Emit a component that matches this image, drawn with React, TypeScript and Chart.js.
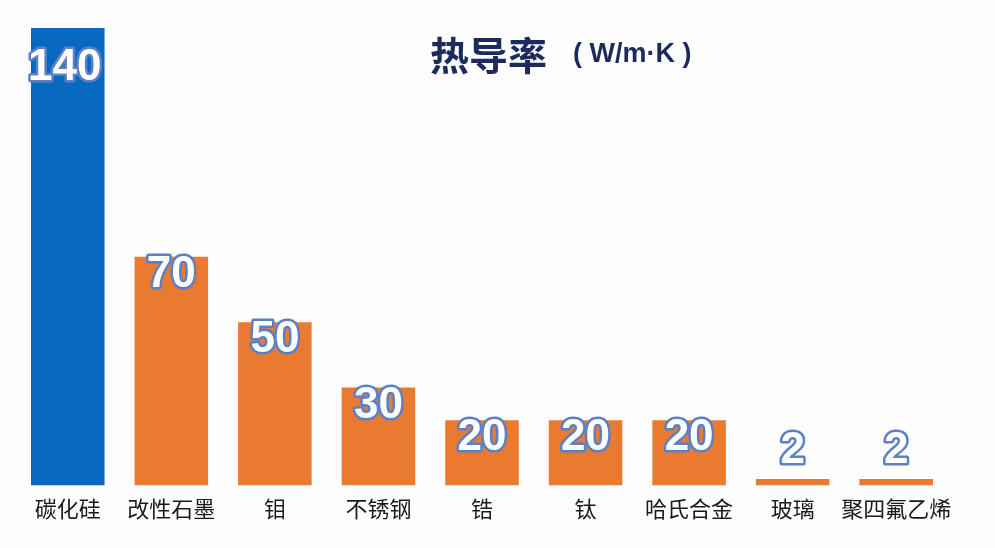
import React, { useEffect, useRef } from "react";
import { Chart, registerables } from "chart.js";

Chart.register(...registerables);

const categories = ["碳化硅", "改性石墨", "钼", "不锈钢", "锆", "钛", "哈氏合金", "玻璃", "聚四氟乙烯"];
const values = [140, 70, 50, 30, 20, 20, 20, 2, 2];
const barColors = ["#0869c1", "#e97a2f", "#e97a2f", "#e97a2f", "#e97a2f", "#e97a2f", "#e97a2f", "#e97a2f", "#e97a2f"];
const titleMain = "热导率";
const titleUnit = "( W/m·K )";

const labelPlugin = {
  id: "barLabels",
  afterDatasetsDraw(chart: any) {
    const ctx = chart.ctx;
    const meta = chart.getDatasetMeta(0);
    const area = chart.chartArea;
    ctx.save();
    ctx.font = "bold 44px 'Liberation Sans', Arial, sans-serif";
    ctx.textAlign = "center";
    ctx.textBaseline = "middle";
    ctx.lineJoin = "round";
    meta.data.forEach((bar: any, i: number) => {
      const h = bar.base - bar.y;
      let y = bar.y + 18;
      if (h < 40) y = bar.y - 28;
      y = Math.max(y, area.top + 40);
      const txt = String(values[i]);
      const x = i === 0 ? bar.x - 3 : bar.x;
      ctx.strokeStyle = "#5b80c8";
      ctx.lineWidth = 5;
      ctx.strokeText(txt, x, y);
      ctx.fillStyle = "#ffffff";
      ctx.fillText(txt, x, y);
    });
    // title
    ctx.textAlign = "left";
    ctx.fillStyle = "#1c2b5c";
    ctx.font = "bold 39px 'Noto Sans CJK SC', sans-serif";
    const ty = 55;
    ctx.fillText(titleMain, 430, ty);
    ctx.font = "bold 27px 'Liberation Sans', Arial, sans-serif";
    ctx.fillText(titleUnit, 573, ty);
    ctx.restore();
  },
};

export default function App() {
  const ref = useRef<HTMLCanvasElement | null>(null);
  useEffect(() => {
    if (!ref.current) return;
    const chart = new Chart(ref.current, {
      type: "bar",
      data: {
        labels: categories,
        datasets: [
          {
            data: values,
            backgroundColor: barColors,
            borderWidth: 0,
            barPercentage: 0.71,
            categoryPercentage: 1,
          },
        ],
      },
      options: {
        animation: false,
        responsive: false,
        maintainAspectRatio: false,
        layout: { padding: { left: 16, right: 47, top: 28, bottom: 16 } },
        plugins: { legend: { display: false }, tooltip: { enabled: false }, title: { display: false } },
        scales: {
          x: {
            grid: { display: false, drawTicks: false },
            border: { display: false },
            ticks: {
              color: "#1a1a1a",
              padding: 10,
              maxRotation: 0,
              autoSkip: false,
              font: { size: 22, family: "'Noto Sans CJK SC', sans-serif" },
            },
          },
          y: {
            display: false,
            min: 0,
            max: 140,
          },
        },
      },
      plugins: [labelPlugin],
    });
    return () => chart.destroy();
  }, []);
  return (
    <div style={{ position: "fixed", left: 0, top: 0, width: 995, height: 548, background: "#fdfdfd" }}>
      <canvas ref={ref} width={995} height={548} style={{ width: 995, height: 548 }} />
    </div>
  );
}
